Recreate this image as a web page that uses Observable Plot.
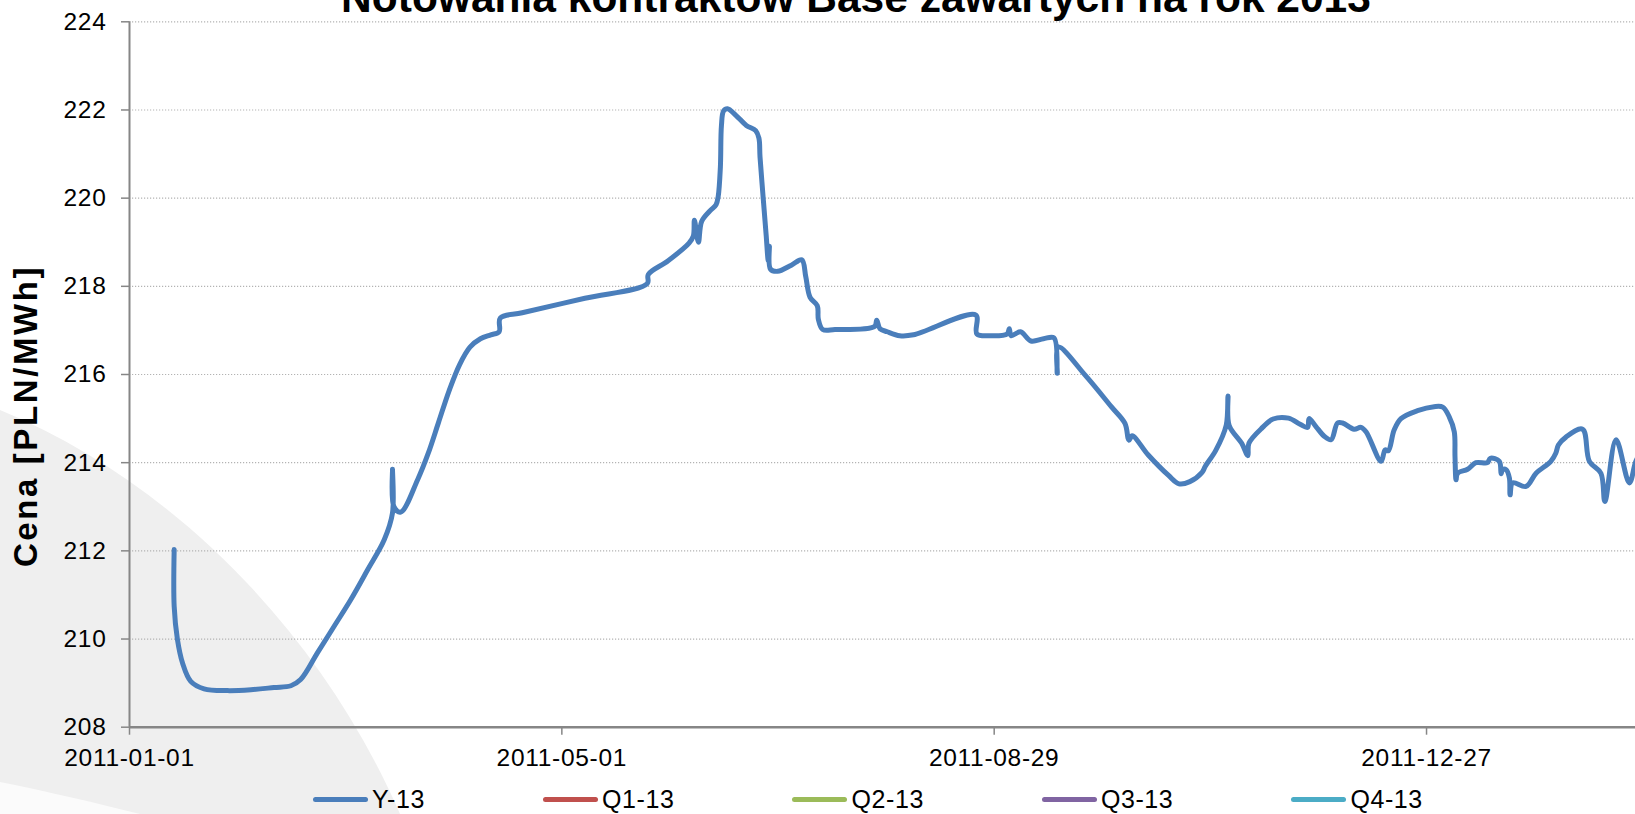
<!DOCTYPE html>
<html>
<head>
<meta charset="utf-8">
<script src="https://cdn.jsdelivr.net/npm/d3@7"></script>
<script src="https://cdn.jsdelivr.net/npm/@observablehq/plot@0.6"></script>
<style>
  html, body { margin: 0; padding: 0; background: #ffffff; width: 1635px; height: 814px; overflow: hidden; }
  body { font-family: "Liberation Sans", Arial, sans-serif; color: #000; }
  #wrap { position: relative; width: 1635px; height: 814px; overflow: hidden; }
  #bg { position: absolute; left: 0; top: 0; }
  #chart { position: absolute; left: 0; top: 0; }
  #title { position: absolute; left: 0; width: 1712px; top: -23px; text-align: center; font-weight: bold; font-size: 42.5px; line-height: 42px; white-space: nowrap; }
  #ylabel { position: absolute; left: 26px; top: 416px; transform: translate(-50%, -50%) rotate(-90deg); font-weight: bold; font-size: 33px; white-space: nowrap; letter-spacing: 2.6px; }
  #legend { position: absolute; left: 313px; top: 785px; display: flex; gap: 118px; font-size: 25px; letter-spacing: 0.6px; line-height: 29px; }
  .item { display: flex; align-items: center; gap: 4px; }
  .sw { width: 55px; height: 5.5px; border-radius: 3px; }
</style>
</head>
<body>
<div id="wrap">
  <svg id="bg" width="1635" height="814">
    <path d="M0,410 C170,480 320,630 400,814 L0,814 Z" fill="#efefef"></path>
    <path d="M0,782 C50,792 100,804 140,814 L0,814 Z" fill="#fbfbfb"></path>
  </svg>
  <div id="chart"></div>
  <div id="title"></div>
  <div id="ylabel"></div>
  <div id="legend"></div>
</div>
<script>
// --- dane ---
const tytul = "Notowania kontraktów Base zawartych na rok 2013";
const osY = "Cena [PLN/MWh]";
const serie = ["Y-13", "Q1-13", "Q2-13", "Q3-13", "Q4-13"];
const kolory = ["#4a7ebb", "#c0504d", "#9bbb59", "#8064a2", "#4bacc6"];
const poczatek = "2011-01-01";
const koniecWidoku = "2012-02-23";
const ticksX = ["2011-01-01", "2011-05-01", "2011-08-29", "2011-12-27"];
const ticksY = [208, 210, 212, 214, 216, 218, 220, 222, 224];

// dni od 2011-01-01 (kilka notowań tego samego dnia daje pionowe odcinki)
const dzienY13 = [
  12.4, 12.4, 13.3, 14.7, 17.0, 20.7, 27.2, 33.7, 40.1, 44.8,
  47.5, 52.2, 56.8, 61.4, 66.1, 70.7, 73.0, 73.0, 73.4, 75.3,
  80.0, 82.9, 85.8, 88.7, 91.6, 94.5, 97.4, 100.3, 102.6, 102.9,
  109.0, 126.4, 143.7, 144.0, 149.5, 155.3, 156.5, 156.8, 157.9, 158.8,
  161.1, 162.8, 163.4, 164.0, 164.3, 164.9, 166.0, 168.3, 171.2, 173.8,
  174.7, 175.0, 175.9, 176.7, 177.3, 177.6, 177.9, 179.9, 183.7, 186.6,
  187.7, 188.9, 190.9, 191.2, 192.4, 195.8, 206.8, 207.4, 208.3, 210.3,
  213.8, 217.6, 234.9, 235.2, 239.2, 243.6, 244.2, 244.7, 247.3, 250.2,
  253.7, 256.6, 257.5, 257.8, 265.3, 272.5, 276.3, 277.4, 278.3, 282.7,
  288.4, 291.3, 294.3, 297.7, 298.6, 301.5, 304.4, 304.9, 305.2, 308.7,
  310.4, 310.7, 314.5, 317.4, 321.7, 324.9, 327.0, 327.4, 329.3, 331.6,
  333.5, 335.3, 336.7, 339.9, 341.8, 343.2, 347.4, 348.5, 349.4, 351.0,
  352.9, 357.5, 362.1, 364.5, 366.3, 367.7, 367.9, 368.2, 368.6, 371.4,
  373.7, 376.9, 377.7, 380.2, 380.7, 381.1, 382.1, 383.0, 383.2, 383.9,
  387.6, 390.4, 394.5, 395.9, 396.6, 398.7, 403.3, 405.2, 408.4, 409.5,
  412.6, 416.3, 418.1, 420.0
];
const cenaY13 = [
  212.03, 210.74, 209.99, 209.46, 209.04, 208.87, 208.83, 208.85, 208.90, 208.94,
  209.08, 209.69, 210.29, 210.89, 211.57, 212.25, 212.86, 213.85, 213.00, 212.88,
  213.62, 214.21, 214.92, 215.63, 216.22, 216.62, 216.81, 216.90, 216.97, 217.28,
  217.40, 217.73, 218.06, 218.27, 218.58, 218.98, 219.14, 219.50, 219.00, 219.47,
  219.71, 219.85, 220.04, 220.70, 221.65, 221.98, 222.03, 221.88, 221.65, 221.53,
  221.36, 220.94, 219.99, 219.17, 218.58, 218.91, 218.39, 218.34, 218.48, 218.60,
  218.22, 217.75, 217.56, 217.25, 217.02, 217.02, 217.09, 217.23, 217.04, 216.97,
  216.88, 216.90, 217.35, 216.92, 216.88, 216.92, 217.04, 216.88, 216.97, 216.76,
  216.81, 216.83, 216.03, 216.62, 215.98, 215.27, 214.89, 214.51, 214.61, 214.18,
  213.71, 213.52, 213.57, 213.78, 213.92, 214.28, 214.85, 215.51, 214.85, 214.44,
  214.16, 214.44, 214.80, 214.99, 215.01, 214.87, 214.80, 215.00, 214.82, 214.60,
  214.52, 214.90, 214.90, 214.76, 214.80, 214.70, 214.03, 214.29, 214.27, 214.74,
  215.00, 215.18, 215.27, 215.26, 215.04, 214.70, 214.14, 213.61, 213.76, 213.85,
  214.00, 214.00, 214.10, 214.03, 213.75, 213.84, 213.84, 213.65, 213.27, 213.54,
  213.46, 213.76, 214.03, 214.22, 214.40, 214.58, 214.76, 214.03, 213.76, 213.12,
  214.52, 213.54, 214.03, 214.30
];

// --- budowa wykresu ---
const t0 = new Date(poczatek + "T00:00:00Z");
const dane = dzienY13.map((d, i) => ({
  data: new Date(t0.getTime() + d * 864e5),
  cena: cenaY13[i],
  seria: serie[0]
}));
const tx = ticksX.map(s => new Date(s + "T00:00:00Z"));
const xDomain = [t0, new Date(koniecWidoku + "T00:00:00Z")];

const chart = Plot.plot({
  width: 1635,
  height: 770,
  marginLeft: 129,
  marginRight: 0,
  marginTop: 21.3,
  marginBottom: 43.3,
  style: { background: "transparent", fontFamily: "'Liberation Sans', Arial, sans-serif", fontSize: "24.5px", color: "#000", overflow: "visible" },
  x: { type: "utc", domain: xDomain },
  y: { domain: [208, 224] },
  marks: [
    Plot.gridY(ticksY.filter(t => t > 208), { stroke: "#b3b3b3", strokeOpacity: 1, strokeWidth: 1.2, strokeDasharray: "1.2,1.8" }),
    Plot.axisY(ticksY, { tickSize: 8, tickPadding: 15, stroke: "#868686", strokeWidth: 1.5, label: null, tickFormat: d => String(d), fill: "#000" }),
    Plot.axisX(tx, { tickSize: 8, tickPadding: 13, stroke: "#868686", strokeWidth: 1.5, label: null, tickFormat: d3.utcFormat("%Y-%m-%d"), fill: "#000" }),
    Plot.ruleX([t0], { stroke: "#868686", strokeWidth: 2 }),
    Plot.ruleY([208], { stroke: "#868686", strokeWidth: 2.5 }),
    Plot.line(dane, { x: "data", y: "cena", stroke: kolory[0], strokeWidth: 5, curve: "catmull-rom", strokeLinejoin: "round", strokeLinecap: "round", clip: true })
  ]
});
chart.querySelectorAll("text").forEach(t => t.style.letterSpacing = "0.7px");
document.getElementById("chart").appendChild(chart);

document.getElementById("title").textContent = tytul;
document.getElementById("ylabel").textContent = osY;

const leg = document.getElementById("legend");
serie.forEach((s, i) => {
  const it = document.createElement("div");
  it.className = "item";
  const sw = document.createElement("div");
  sw.className = "sw";
  sw.style.background = kolory[i];
  const lb = document.createElement("span");
  lb.textContent = s;
  it.appendChild(sw);
  it.appendChild(lb);
  leg.appendChild(it);
});
</script>
</body>
</html>
